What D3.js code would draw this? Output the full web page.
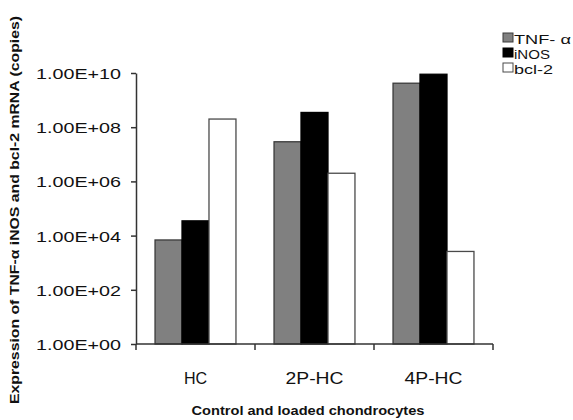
<!DOCTYPE html>
<html>
<head>
<meta charset="utf-8">
<script src="https://cdn.jsdelivr.net/npm/d3@7"></script>
<style>
  html, body { margin: 0; padding: 0; background: #fff; }
  svg { display: block; font-family: Arial, "Liberation Sans", Helvetica, sans-serif; }
</style>
</head>
<body>
<svg id="chart" width="573" height="420"></svg>
<script>
const categories = ["HC", "2P-HC", "4P-HC"];
const seriesNames = ["TNF- α", "iNOS", "bcl-2"];
const tnfValues  = [6.9e3, 2.9e7, 4.2e9];
const inosValues = [3.5e4, 3.5e8, 9.0e9];
const bcl2Values = [2.0e8, 2.0e6, 2.6e3];
const tickValues = [1e0, 1e2, 1e4, 1e6, 1e8, 1e10];
const tickLabels = ["1.00E+00", "1.00E+02", "1.00E+04", "1.00E+06", "1.00E+08", "1.00E+10"];
const yTitle = "Expression of TNF-α iNOS and bcl-2 mRNA (copies)";
const xTitle = "Control and loaded chondrocytes";

const seriesValues = [tnfValues, inosValues, bcl2Values];
const fills = ["#808080", "#000000", "#ffffff"];
const strokes = ["#3a3a3a", "#000000", "#4a4a4a"];

const svg = d3.select("#chart");
const pLeft = 136, pRight = 493, pTop = 73, pBottom = 344;

const x = d3.scaleBand().domain(categories).range([pLeft, pRight])
  .paddingInner(0.32).paddingOuter(0.16);
const xs = d3.scaleBand().domain(seriesNames).range([0, x.bandwidth()]);
const y = d3.scaleLog().domain([1, 1e10]).range([pBottom, pTop]);

// bars
const rows = [];
categories.forEach((c, i) => seriesNames.forEach((s, j) => rows.push({c, s, j, v: seriesValues[j][i]})));
svg.append("g").selectAll("rect").data(rows).join("rect")
  .attr("x", d => x(d.c) + xs(d.s))
  .attr("y", d => y(d.v))
  .attr("width", xs.bandwidth())
  .attr("height", d => y(1) - y(d.v))
  .attr("fill", d => fills[d.j])
  .attr("stroke", d => strokes[d.j])
  .attr("stroke-width", 1.3);

// y axis
const yAxis = d3.axisLeft(y).tickValues(tickValues)
  .tickFormat((d, i) => tickLabels[i]).tickSize(5).tickSizeOuter(0);
const gy = svg.append("g").attr("transform", `translate(${pLeft},0)`).call(yAxis);
gy.select(".domain").attr("stroke", "#333").attr("stroke-width", 1.5);
gy.selectAll(".tick line").attr("stroke", "#333").attr("stroke-width", 1.5);
gy.selectAll(".tick text")
  .attr("x", -15).attr("dy", "0.36em")
  .attr("font-size", 15).attr("fill", "#111")
  .attr("textLength", 85).attr("lengthAdjust", "spacingAndGlyphs");

// x axis
const step = x.step();
const boundaries = [pLeft].concat(categories.map(c => x(c) + x.bandwidth() + step * 0.16));
svg.append("line").attr("x1", pLeft).attr("x2", pRight).attr("y1", pBottom).attr("y2", pBottom)
  .attr("stroke", "#333").attr("stroke-width", 1.5);
svg.append("g").selectAll("line").data(boundaries).join("line")
  .attr("x1", d => d).attr("x2", d => d).attr("y1", pBottom).attr("y2", pBottom + 6)
  .attr("stroke", "#333").attr("stroke-width", 1.5);
svg.append("g").selectAll("text").data(categories).join("text")
  .attr("x", d => x(d) + x.bandwidth() / 2)
  .attr("y", 384)
  .attr("text-anchor", "middle")
  .attr("font-size", 16).attr("fill", "#111")
  .attr("textLength", d => d.length * 11.6)
  .attr("lengthAdjust", "spacingAndGlyphs")
  .text(d => d);

// titles
svg.append("text").attr("x", 308).attr("y", 415)
  .attr("text-anchor", "middle").attr("font-size", 12).attr("font-weight", "bold").attr("fill", "#111")
  .attr("textLength", 233).attr("lengthAdjust", "spacingAndGlyphs")
  .text(xTitle);
svg.append("text").attr("transform", "translate(19,210) rotate(-90)")
  .attr("text-anchor", "middle").attr("font-size", 12.5).attr("font-weight", "bold").attr("fill", "#111")
  .attr("textLength", 388).attr("lengthAdjust", "spacingAndGlyphs")
  .text(yTitle);

// legend
const lg = svg.append("g");
const ly = d3.scalePoint().domain(seriesNames).range([33, 63]);
lg.selectAll("rect").data(seriesNames).join("rect")
  .attr("x", 503).attr("y", d => ly(d)).attr("width", 10).attr("height", 9)
  .attr("fill", (d, i) => fills[i]).attr("stroke", (d, i) => strokes[i]).attr("stroke-width", 1);
const legendLens = [57, 36, 39];
lg.selectAll("text").data(seriesNames).join("text")
  .attr("x", 514).attr("y", d => ly(d) + 11)
  .attr("font-size", 13).attr("fill", "#111")
  .attr("textLength", (d, i) => legendLens[i]).attr("lengthAdjust", "spacingAndGlyphs")
  .text(d => d);
</script>
</body>
</html>
